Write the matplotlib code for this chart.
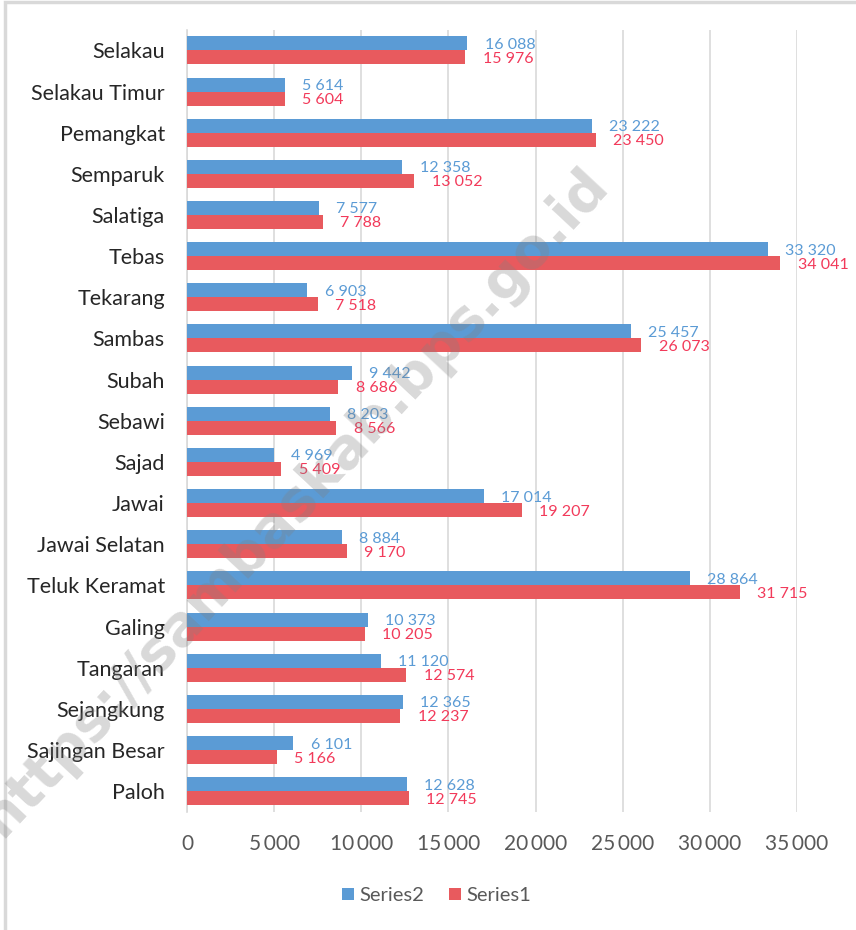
import matplotlib.pyplot as plt
import numpy as np
from matplotlib.patches import Rectangle

categories = ['Selakau', 'Selakau Timur', 'Pemangkat', 'Semparuk', 'Salatiga',
              'Tebas', 'Tekarang', 'Sambas', 'Subah', 'Sebawi', 'Sajad', 'Jawai',
              'Jawai Selatan', 'Teluk Keramat', 'Galing', 'Tangaran', 'Sejangkung',
              'Sajingan Besar', 'Paloh']
series2 = [16088, 5614, 23222, 12358, 7577, 33320, 6903, 25457, 9442, 8203,
           4969, 17014, 8884, 28864, 10373, 11120, 12365, 6101, 12628]
series1 = [15976, 5604, 23450, 13052, 7788, 34041, 7518, 26073, 8686, 8566,
           5409, 19207, 9170, 31715, 10205, 12574, 12237, 5166, 12745]
xticks = [0, 5000, 10000, 15000, 20000, 25000, 30000, 35000]

plt.rcParams['font.family'] = ['Lato', 'DejaVu Sans']

blue = '#5B9BD5'
red = '#E85A5E'
red_txt = '#F23A5A'

fig = plt.figure(figsize=(8.56, 9.3), dpi=100)
ax = fig.add_axes([0.2185, 0.127, 0.7125, 0.841])

n = len(categories)
y = np.arange(n)
h = 0.34
ax.barh(y - h / 2, series2, height=h, color=blue, label='Series2', zorder=3)
ax.barh(y + h / 2, series1, height=h, color=red, label='Series1', zorder=3)

for i in range(n):
    ax.annotate(f'{series2[i]:,}'.replace(',', ' '), (series2[i], y[i] - h / 2),
                xytext=(12.5, -1), textcoords='offset points', va='center',
                ha='left', color=blue, fontsize=11.5, zorder=4)
    ax.annotate(f'{series1[i]:,}'.replace(',', ' '), (series1[i], y[i] + h / 2),
                xytext=(12.5, -1), textcoords='offset points', va='center',
                ha='left', color=red_txt, fontsize=11.5, zorder=4)

ax.set_ylim(n - 0.5, -0.5)
ax.set_xlim(0, 35000)
ax.set_yticks(y)
ax.set_yticklabels(categories, fontsize=15.5, color='#262626')
ax.set_xticks(xticks)
ax.set_xticklabels([f'{t:,}'.replace(',', '\u2009') for t in xticks],
                   fontsize=15, color='#595959')
ax.tick_params(axis='both', length=0)
ax.tick_params(axis='x', pad=16)
ax.tick_params(axis='y', pad=16)
ax.grid(axis='x', color='#D9D9D9', linewidth=1.2, zorder=0)
for s in ['top', 'right', 'bottom']:
    ax.spines[s].set_visible(False)
ax.spines['left'].set_color('#D9D9D9')
ax.spines['left'].set_linewidth(1.2)

fig.legend(loc='center', bbox_to_anchor=(0.51, 0.037), ncol=2, frameon=False,
           fontsize=14.5, handlelength=0.6, handleheight=0.6, handletextpad=0.3,
           columnspacing=1.2, labelcolor='#595959')

# watermark
fig.text(0.345, 0.46, 'https://sambaskab.bps.go.id', fontsize=40,
         fontweight='bold', color='#808080', alpha=0.3, rotation=47,
         ha='center', va='center', family='DejaVu Sans', zorder=10)

fig.patches.append(Rectangle((0.006, -0.01), 1.1, 1.0075, transform=fig.transFigure,
                             fill=False, edgecolor='#D9D9D9', linewidth=2.5))

fig.savefig('out.png', dpi=100)
